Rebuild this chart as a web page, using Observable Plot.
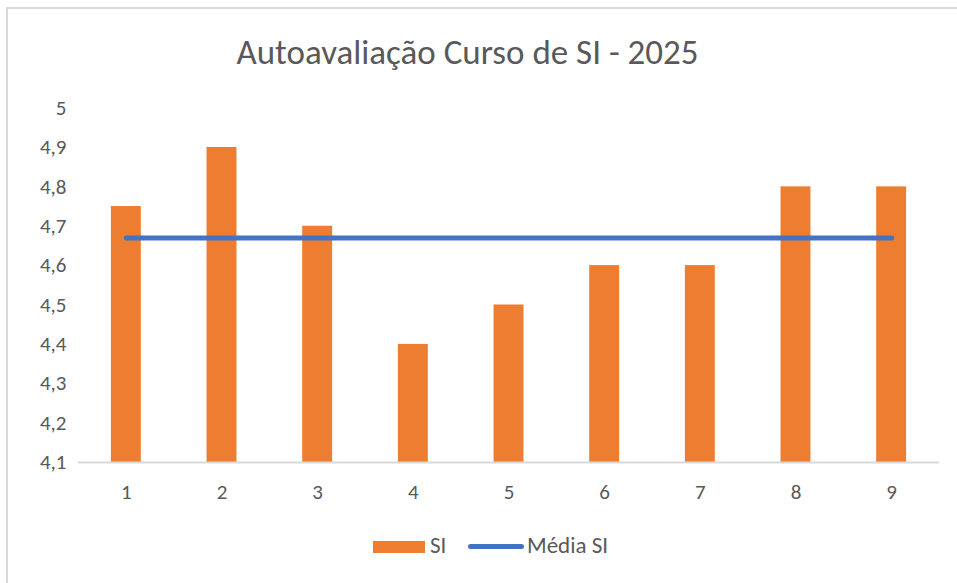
<!DOCTYPE html>
<html><head><meta charset="utf-8">
<script src="https://cdn.jsdelivr.net/npm/d3@7"></script>
<script src="https://cdn.jsdelivr.net/npm/@observablehq/plot@0.6"></script>
<style>
body{margin:0;background:#fff;font-family:Carlito,"Open Sans",sans-serif;color:#595959;}
#wrap{position:relative;width:957px;height:583px;overflow:hidden;}
#frame{position:absolute;left:6px;top:7px;width:960px;height:590px;border-left:2px solid #d9d9d9;border-top:2px solid #d9d9d9;box-sizing:border-box;}
#title{position:relative;height:90px;text-align:center;font-size:35px;line-height:1;padding-top:35px;box-sizing:border-box;padding-right:22px;}
#chart{position:relative;height:430px;}
#legend{position:relative;height:63px;}
.sw{position:absolute;}
.lt{position:absolute;font-size:23px;line-height:1;}
</style></head>
<body><div id="wrap"><div id="frame"></div>
<div id="title">Autoavaliação Curso de SI - 2025</div>
<div id="chart"></div>
<div id="legend">
 <div class="sw" style="left:373px;top:21px;width:52px;height:12px;background:#ED7D31"></div>
 <div class="lt" style="left:430px;top:14px">SI</div>
 <div class="sw" style="left:468px;top:24px;width:56px;height:5px;border-radius:3px;background:#4472C4"></div>
 <div class="lt" style="left:527px;top:14px">Média SI</div>
</div>
</div>
<script>
const categorias = ["1","2","3","4","5","6","7","8","9"];
const valoresSI = [4.75, 4.9, 4.7, 4.4, 4.5, 4.6, 4.6, 4.8, 4.8];
const mediaSI = [4.67, 4.67, 4.67, 4.67, 4.67, 4.67, 4.67, 4.67, 4.67];
const yTicks = [4.1, 4.2, 4.3, 4.4, 4.5, 4.6, 4.7, 4.8, 4.9, 5];
const yMin = 4.1, yMax = 5;

const rows = categorias.map((c, i) => ({c, v: valoresSI[i], m: mediaSI[i]}));
const fmt = d => String(d).replace(".", ",");

const plot = Plot.plot({
  width: 957, height: 430,
  marginLeft: 78, marginRight: 18, marginTop: 17.6, marginBottom: 58,
  style: {fontFamily: 'Carlito, "Open Sans", sans-serif', fontSize: "21px", color: "#595959", background: "transparent"},
  x: {domain: categorias, paddingInner: 0.687, paddingOuter: 0.3435, round: false, label: null},
  y: {domain: [yMin, yMax], label: null},
  marks: [
    Plot.barY(rows, {x: "c", y1: () => yMin, y2: "v", fill: "#ED7D31"}),
    Plot.ruleY([yMin], {stroke: "#d9d9d9", strokeWidth: 2}),
    Plot.line(rows, {x: "c", y: "m", stroke: "#4472C4", strokeWidth: 5, strokeLinecap: "round"}),
    Plot.axisY({ticks: yTicks, tickFormat: fmt, tickSize: 0, tickPadding: 12, fill: "#595959"}),
    Plot.axisX({tickSize: 0, tickPadding: 22, fill: "#595959"})
  ]
});
document.getElementById("chart").appendChild(plot);
</script></body></html>
